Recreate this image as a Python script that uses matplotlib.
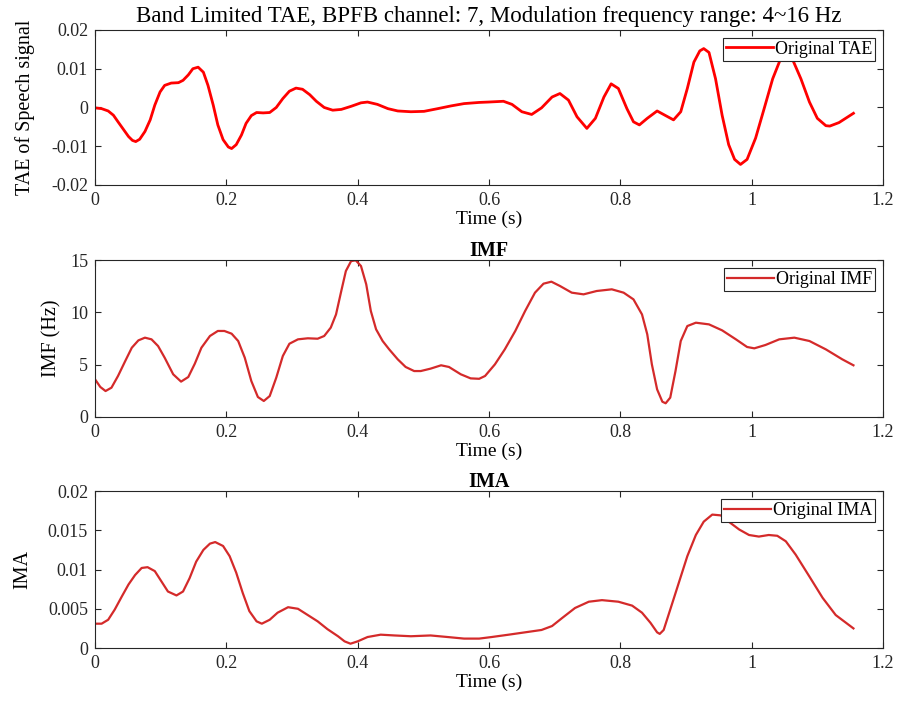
import matplotlib
matplotlib.use("Agg")
import matplotlib.pyplot as plt

plt.rcParams['font.family'] = ['Liberation Serif', 'DejaVu Serif']
plt.rcParams['axes.linewidth'] = 0.8

# Band limited TAE
tae_t = [0.000, 0.010, 0.020, 0.028, 0.035, 0.043, 0.051, 0.057, 0.062, 0.068,
         0.076, 0.084, 0.091, 0.099, 0.106, 0.116, 0.127, 0.134, 0.142, 0.149,
         0.157, 0.165, 0.172, 0.180, 0.187, 0.195, 0.203, 0.208, 0.215, 0.223,
         0.230, 0.238, 0.246, 0.256, 0.266, 0.276, 0.286, 0.296, 0.306, 0.316,
         0.327, 0.337, 0.349, 0.362, 0.375, 0.390, 0.405, 0.415, 0.430, 0.446,
         0.461, 0.481, 0.501, 0.522, 0.542, 0.562, 0.585, 0.599, 0.622, 0.635,
         0.650, 0.665, 0.680, 0.696, 0.708, 0.721, 0.734, 0.749, 0.762, 0.775,
         0.786, 0.797, 0.810, 0.820, 0.829, 0.841, 0.856, 0.869, 0.881, 0.892,
         0.902, 0.912, 0.921, 0.927, 0.935, 0.945, 0.955, 0.965, 0.974, 0.983,
         0.993, 1.006, 1.019, 1.032, 1.043, 1.053, 1.063, 1.075, 1.088, 1.100,
         1.113, 1.119, 1.133, 1.155]
tae_v = [-0.0001, -0.0003, -0.0009, -0.0020, -0.0037, -0.0056, -0.0075, -0.0085, -0.0088, -0.0082,
         -0.0062, -0.0032, 0.0006, 0.0040, 0.0057, 0.0063, 0.0064, 0.0070, 0.0084, 0.0100,
         0.0104, 0.0091, 0.0057, 0.0006, -0.0045, -0.0083, -0.0102, -0.0106, -0.0096, -0.0071,
         -0.0041, -0.0021, -0.0013, -0.0014, -0.0013, 0.0000, 0.0023, 0.0042, 0.0050, 0.0047,
         0.0033, 0.0016, 0.0000, -0.0007, -0.0005, 0.0003, 0.0012, 0.0014, 0.0008, -0.0003,
         -0.0009, -0.0011, -0.0010, -0.0003, 0.0004, 0.0010, 0.0013, 0.0014, 0.0016, 0.0008,
         -0.0011, -0.0018, -0.0001, 0.0027, 0.0036, 0.0019, -0.0024, -0.0054, -0.0028, 0.0027,
         0.0061, 0.0049, -0.0003, -0.0037, -0.0045, -0.0028, -0.0009, -0.0021, -0.0032, -0.0011,
         0.0049, 0.0117, 0.0146, 0.0152, 0.0142, 0.0074, -0.0020, -0.0096, -0.0134, -0.0147,
         -0.0134, -0.0079, -0.0003, 0.0074, 0.0121, 0.0134, 0.0121, 0.0074, 0.0014, -0.0028,
         -0.0047, -0.0048, -0.0039, -0.0015]

# Instantaneous modulation frequency (Hz)
imf_t = [0.000, 0.008, 0.016, 0.025, 0.035, 0.046, 0.056, 0.066, 0.076, 0.086,
         0.096, 0.106, 0.119, 0.131, 0.142, 0.152, 0.162, 0.175, 0.187, 0.197,
         0.208, 0.218, 0.228, 0.238, 0.248, 0.257, 0.266, 0.276, 0.286, 0.296,
         0.309, 0.324, 0.339, 0.349, 0.359, 0.367, 0.375, 0.382, 0.390, 0.397,
         0.405, 0.413, 0.420, 0.428, 0.438, 0.448, 0.461, 0.473, 0.486, 0.496,
         0.511, 0.527, 0.539, 0.557, 0.572, 0.585, 0.594, 0.609, 0.624, 0.640,
         0.655, 0.670, 0.683, 0.695, 0.708, 0.726, 0.744, 0.764, 0.787, 0.805,
         0.820, 0.833, 0.841, 0.848, 0.856, 0.864, 0.869, 0.876, 0.884, 0.892,
         0.902, 0.915, 0.935, 0.955, 0.976, 0.993, 1.004, 1.021, 1.042, 1.065,
         1.088, 1.113, 1.138, 1.155]
imf_v = [3.60, 2.87, 2.48, 2.80, 3.92, 5.35, 6.62, 7.32, 7.58, 7.42,
         6.78, 5.67, 4.08, 3.38, 3.82, 5.10, 6.62, 7.74, 8.22, 8.22,
         7.96, 7.26, 5.67, 3.44, 1.91, 1.53, 2.00, 3.76, 5.83, 7.00,
         7.42, 7.52, 7.48, 7.74, 8.54, 9.80, 12.04, 13.95, 14.90, 14.97,
         14.43, 12.68, 10.13, 8.38, 7.26, 6.46, 5.51, 4.78, 4.39, 4.39,
         4.62, 4.94, 4.78, 4.08, 3.69, 3.65, 3.92, 5.03, 6.46, 8.22,
         10.13, 11.88, 12.74, 12.93, 12.52, 11.88, 11.72, 12.04, 12.20, 11.88,
         11.24, 9.80, 7.90, 5.03, 2.64, 1.46, 1.31, 1.85, 4.39, 7.26,
         8.69, 9.01, 8.85, 8.28, 7.42, 6.69, 6.56, 6.88, 7.42, 7.58,
         7.26, 6.46, 5.51, 4.94]

# Instantaneous modulation amplitude
ima_t = [0.000, 0.010, 0.020, 0.030, 0.041, 0.051, 0.061, 0.071, 0.080, 0.091,
         0.101, 0.111, 0.124, 0.134, 0.144, 0.154, 0.165, 0.175, 0.183, 0.195,
         0.205, 0.215, 0.225, 0.235, 0.246, 0.254, 0.266, 0.278, 0.294, 0.309,
         0.324, 0.339, 0.354, 0.370, 0.380, 0.389, 0.400, 0.415, 0.435, 0.456,
         0.481, 0.511, 0.537, 0.562, 0.585, 0.604, 0.630, 0.655, 0.680, 0.696,
         0.711, 0.731, 0.752, 0.772, 0.797, 0.818, 0.833, 0.846, 0.856, 0.860,
         0.866, 0.876, 0.889, 0.902, 0.915, 0.927, 0.940, 0.953, 0.965, 0.981,
         0.996, 1.011, 1.026, 1.039, 1.052, 1.067, 1.088, 1.108, 1.128, 1.155]
ima_v = [0.0031, 0.0031, 0.0036, 0.0049, 0.0066, 0.0081, 0.0093, 0.0102, 0.0103, 0.0098,
         0.0085, 0.0072, 0.0067, 0.0072, 0.0089, 0.0110, 0.0125, 0.0133, 0.0135, 0.0130,
         0.0117, 0.0096, 0.0070, 0.0047, 0.0034, 0.0031, 0.0036, 0.0045, 0.0052, 0.0050,
         0.0042, 0.0034, 0.0024, 0.0015, 0.00085, 0.00055, 0.00085, 0.0014, 0.0017, 0.0016,
         0.0015, 0.0016, 0.0014, 0.0012, 0.0012, 0.0014, 0.0017, 0.0020, 0.0023, 0.0028,
         0.0038, 0.0051, 0.0059, 0.0061, 0.0059, 0.0054, 0.0045, 0.0032, 0.0020, 0.0018,
         0.0023, 0.0049, 0.0083, 0.0117, 0.0144, 0.0161, 0.0170, 0.0169, 0.0161, 0.0151,
         0.0144, 0.0142, 0.0144, 0.0143, 0.0136, 0.0119, 0.0091, 0.0064, 0.0042, 0.0025]

x_ticks = [0, 0.2, 0.4, 0.6, 0.8, 1.0, 1.2]
x_labels = ['0', '0.2', '0.4', '0.6', '0.8', '1', '1.2']
tae_ticks = [-0.02, -0.01, 0, 0.01, 0.02]
tae_labels = ['-0.02', '-0.01', '0', '0.01', '0.02']
imf_ticks = [0, 5, 10, 15]
imf_labels = ['0', '5', '10', '15']
ima_ticks = [0, 0.005, 0.01, 0.015, 0.02]
ima_labels = ['0', '0.005', '0.01', '0.015', '0.02']

AX_COLOR = '0.15'
TICK_FS = 13


def style_axes(ax, yticks, ylabels, ylim):
    ax.set_xlim(0, 1.2)
    ax.set_ylim(*ylim)
    ax.set_xticks(x_ticks)
    ax.set_xticklabels(x_labels)
    ax.set_yticks(yticks)
    ax.set_yticklabels(ylabels)
    ax.tick_params(direction='in', top=True, right=True, length=4.5, width=0.8,
                   colors=AX_COLOR, labelsize=TICK_FS)
    ax.tick_params(axis='x', pad=5)
    ax.tick_params(axis='y', pad=5)
    for sp in ax.spines.values():
        sp.set_color(AX_COLOR)
    ax.set_xlabel('Time (s)', fontsize=14, color='black', labelpad=1)


def add_legend(ax):
    leg = ax.legend(loc='upper right', fontsize=13, frameon=True, fancybox=False,
                    framealpha=1, edgecolor=AX_COLOR, borderpad=0.15,
                    handlelength=2.6, handletextpad=0.1, borderaxespad=0.45)
    leg.get_frame().set_linewidth(0.8)


fig = plt.figure(figsize=(9.0, 7.02), dpi=100)

ax1 = fig.add_axes([0.1056, 0.7365, 0.8755, 0.2208])
ax1.plot(tae_t, tae_v, color='#ff0000', lw=2.0, label='Original TAE')
style_axes(ax1, tae_ticks, tae_labels, (-0.02, 0.02))
ax1.set_ylabel('TAE of Speech signal', fontsize=14.5)
ax1.yaxis.set_label_coords(-0.076, 0.5)
ax1.set_title('Band Limited TAE, BPFB channel: 7, Modulation frequency range: 4~16 Hz',
              fontsize=16.5, pad=6)
add_legend(ax1)

ax2 = fig.add_axes([0.1056, 0.4060, 0.8755, 0.2236])
ax2.plot(imf_t, imf_v, color='#d42a2a', lw=1.6, label='Original IMF')
style_axes(ax2, imf_ticks, imf_labels, (0, 15))
ax2.set_ylabel('IMF (Hz)', fontsize=14.5)
ax2.yaxis.set_label_coords(-0.043, 0.5)
ax2.set_title('IMF', fontsize=14.5, fontweight='bold', pad=3)
add_legend(ax2)

ax3 = fig.add_axes([0.1056, 0.0769, 0.8755, 0.2236])
ax3.plot(ima_t, ima_v, color='#d42a2a', lw=1.6, label='Original IMA')
style_axes(ax3, ima_ticks, ima_labels, (0, 0.02))
ax3.set_ylabel('IMA', fontsize=14.5)
ax3.yaxis.set_label_coords(-0.080, 0.5)
ax3.set_title('IMA', fontsize=14.5, fontweight='bold', pad=3)
add_legend(ax3)

fig.savefig('out.png', dpi=100)
